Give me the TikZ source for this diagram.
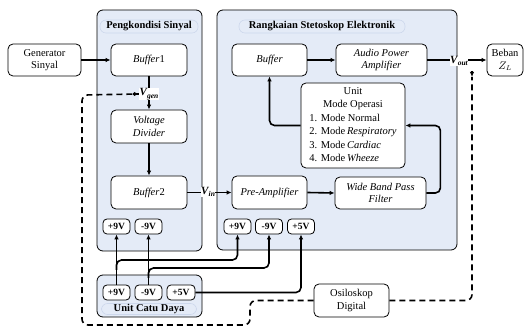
\documentclass[tikz,border=0pt]{standalone}
\usepackage{fontspec}
\setmainfont{Liberation Serif}
\usetikzlibrary{arrows.meta}
\definecolor{panelblue}{RGB}{228,235,247}
\definecolor{titleline}{RGB}{205,216,236}
\newcommand\vlab[1]{\textbf{\textit{V}}\kern-0.5pt\raisebox{-2.5pt}{\fontsize{7.5}{8}\selectfont\bfseries\itshape #1}}
\begin{document}
\begin{tikzpicture}[x=1pt,y=-1pt,
  box/.style={draw,line width=0.8pt,rounded corners=5pt,fill=white,inner sep=0pt,align=center,font=\fontsize{10.5}{12.5}\selectfont},
  vbox/.style={draw,line width=0.8pt,rounded corners=4pt,fill=white,inner sep=0pt,minimum width=27pt,minimum height=15pt,font=\bfseries\fontsize{9.5}{10}\selectfont},
  panel/.style={draw,line width=0.8pt,rounded corners=6pt,fill=panelblue},
  ptitle/.style={draw=titleline,line width=0.6pt,rounded corners=6pt,fill=panelblue,inner sep=0pt,font=\bfseries\fontsize{10.5}{12}\selectfont},
  lbl/.style={fill=white,inner sep=0.5pt,font=\fontsize{11}{12}\selectfont},
  conn/.style={line width=1.6pt,-{Latex[length=5pt,width=4.5pt]}},
  dconn/.style={line width=1.6pt,dash pattern=on 6pt off 4pt,rounded corners=6pt},
  pw/.style={line width=1.6pt,rounded corners=5pt,-{Latex[length=5pt,width=4.5pt]}}]
\useasboundingbox (0,0) rectangle (530,328);
% panels
\draw[panel] (97,10) rectangle (202,251);
\draw[panel] (217,10) rectangle (457,250);
\draw[panel] (97,275) rectangle (202,317);
\node[ptitle,minimum width=98pt,minimum height=13pt] (t1) at (149,26.5) {Pengkondisi Sinyal};
\node[ptitle,minimum width=166pt,minimum height=13pt] (t2) at (322,26.5) {Rangkaian Stetoskop Elektronik};
\node[ptitle,minimum width=95pt,minimum height=11pt] (t3) at (149,309) {Unit Catu Daya};
% boxes
\node[box,minimum width=73pt,minimum height=32pt] (gen) at (44.5,60) {Generator\\Sinyal};
\node[box,minimum width=76pt,minimum height=32pt] (buf1) at (149,60) {\textit{Buffer}1};
\node[box,minimum width=76pt,minimum height=33pt] (vd) at (149,126.5) {\textit{Voltage}\\\textit{Divider}};
\node[box,minimum width=76pt,minimum height=33pt] (buf2) at (149,192.5) {\textit{Buffer}2};
\node[box,minimum width=75pt,minimum height=32pt] (bufr) at (269.5,60) {\textit{Buffer}};
\node[box,minimum width=91pt,minimum height=32pt] (apa) at (381.5,60) {\textit{Audio Power}\\\textit{Amplifier}};
\node[box,minimum width=36pt,minimum height=32pt] (beban) at (505,60) {Beban\\$Z_L$};
\node[box,minimum width=104pt,minimum height=85pt] (mode) at (353,125.5) {\fontsize{10.5}{13.5}\selectfont\begin{tabular}{@{}l@{}}\multicolumn{1}{@{}c@{}}{Unit}\\\multicolumn{1}{@{}c@{}}{Mode Operasi}\\1. Mode Normal\\2. Mode\,\textit{Respiratory}\\3. Mode\,\textit{Cardiac}\\4. Mode\,\textit{Wheeze}\end{tabular}};
\node[box,minimum width=75pt,minimum height=33pt] (pre) at (269.5,192.5) {\textit{Pre-Amplifier}};
\node[box,minimum width=91pt,minimum height=32pt] (wbpf) at (380.5,193) {\textit{Wide Band Pass}\\\textit{Filter}};
\node[box,minimum width=75pt,minimum height=33pt] (osc) at (351.5,300.5) {Osiloskop\\Digital};
% voltage nodes
\node[vbox] (p9) at (116.5,226.5) {+9V};
\node[vbox] (pm9) at (148.5,226.5) {-9V};
\node[vbox] (r9) at (237.5,226.5) {+9V};
\node[vbox] (rm9) at (269,226.5) {-9V};
\node[vbox] (r5) at (301,226.5) {+5V};
\node[vbox] (c9) at (116.5,292.5) {+9V};
\node[vbox] (cm9) at (148.5,292.5) {-9V};
\node[vbox,minimum width=28pt] (c5) at (181,292.5) {+5V};
% signal connectors
\draw[conn] (gen.east) -- (buf1.west);
\draw[conn] (buf1.south) -- (vd.north);
\node[lbl] (vgen) at (149,94) {\vlab{gen}};
\draw[conn] (vd.south) -- (buf2.north);
\draw[conn] (buf2.east) -- (pre.west);
\node[lbl] (vin) at (208,192) {\vlab{in}};
\draw[conn] (pre.east) -- (wbpf.west);
\draw[conn,rounded corners=5pt] (wbpf.east) -- ++(14,0) |- (mode.east);
\draw[conn,rounded corners=5pt] (mode.west) -| (bufr.south);
\draw[conn] (bufr.east) -- (apa.west);
\draw[conn] (apa.east) -- (beban.west);
\node[lbl] (vout) at (459,61) {\vlab{out}};
% dashed
\coordinate (dv) at (472,77);
\draw[dconn] (osc.west) -- (250,300.5) -- (250,325) -- (82,325) -- (82,95) -- (vgen.west);
\draw[line width=1.6pt,-{Latex[length=5pt,width=4.5pt]}] ([xshift=-6pt]vgen.west) -- (vgen.west);
\draw[dconn] (osc.east) -| (dv);
\draw[line width=1.6pt,-{Latex[length=5pt,width=4.5pt]}] ([yshift=6pt]dv) -- (dv);
% power
\draw[pw] (c9.north) -- (p9.south);
\draw[pw] (116.5,270) |- (237.5,260) -- (r9.south);
\draw[pw] (cm9.north) -- (pm9.south);
\draw[pw] (148.5,278) |- (269,268) -- (rm9.south);
\draw[pw] (c5.east) -| (r5.south);
\end{tikzpicture}
\end{document}
